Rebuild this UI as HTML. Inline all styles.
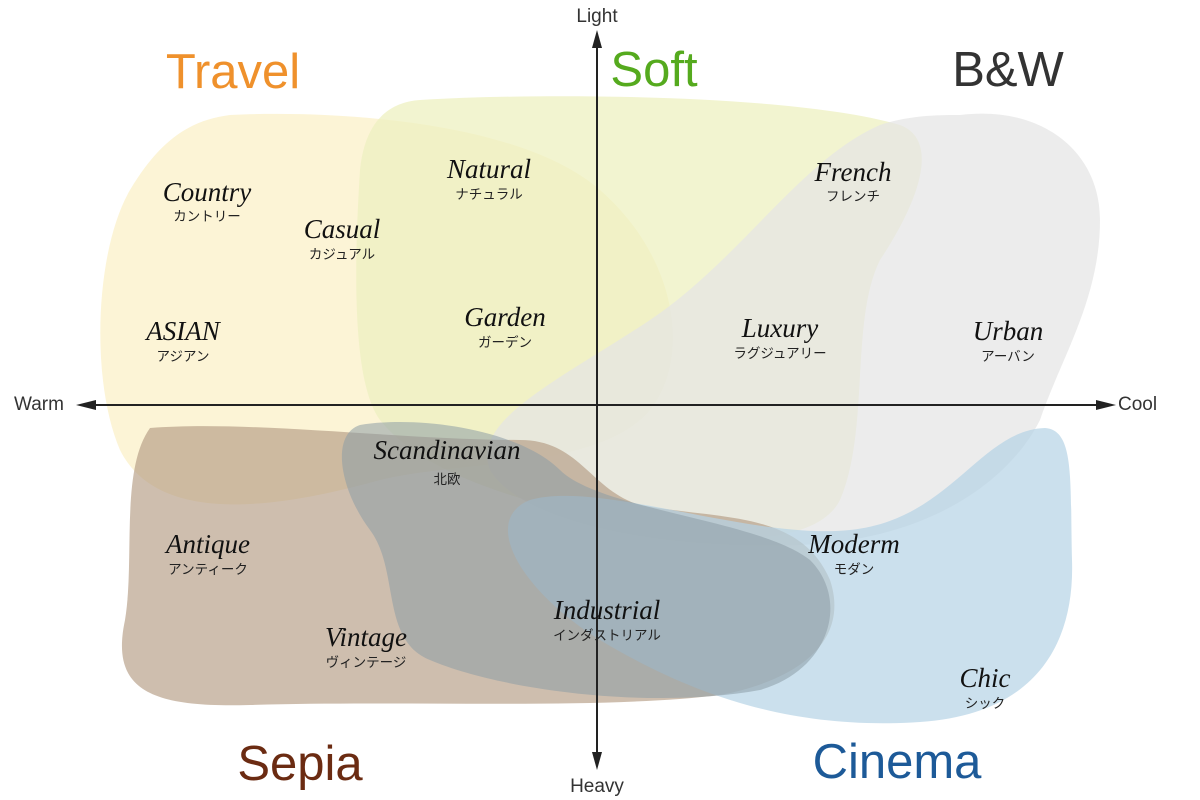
<!DOCTYPE html>
<html><head><meta charset="utf-8"><style>
html,body{margin:0;padding:0;background:#fff;}
svg{display:block;}
.l{font-family:"Liberation Serif","Noto Serif CJK SC",serif;font-style:italic;font-size:27px;fill:#111;text-anchor:middle;}
.j{font-family:"Liberation Sans","Noto Sans CJK JP",sans-serif;font-size:13.5px;fill:#222;text-anchor:middle;}
.t{font-family:"Liberation Sans",sans-serif;font-size:49px;text-anchor:middle;}
.a{font-family:"Liberation Sans",sans-serif;font-size:19px;fill:#333;}
</style></head><body>
<svg width="1200" height="800" viewBox="0 0 1200 800" xmlns="http://www.w3.org/2000/svg">
<path d="M230,115 C330,110 520,120 600,190 C680,260 690,360 650,410 C600,470 460,460 380,480 C290,505 160,530 120,450 C90,380 95,250 130,190 C160,140 190,120 230,115 Z" fill="#fbf1cc" opacity="0.8"/>
<path d="M420,100 C550,92 800,95 900,125 C940,140 920,200 880,260 C850,320 870,430 840,500 C815,550 700,545 600,520 C500,495 420,470 380,420 C350,380 355,250 360,170 C365,120 390,102 420,100 Z" fill="#eef0c0" opacity="0.75"/>
<path d="M960,115 C1040,105 1100,150 1100,220 C1100,300 1060,360 1040,420 C1010,480 930,540 800,545 C650,550 520,520 490,470 C470,420 560,380 650,320 C740,260 800,160 880,125 C910,115 940,115 960,115 Z" fill="#e4e4e4" opacity="0.72"/>
<path d="M150,428 C250,420 400,440 520,440 C580,440 590,490 640,505 C720,520 800,510 830,580 C850,640 800,680 720,695 C600,710 400,700 250,705 C150,708 110,690 125,620 C135,560 120,470 150,428 Z" fill="#b39b83" opacity="0.65"/>
<path d="M1045,428 C1075,430 1070,480 1072,560 C1075,650 1030,715 920,722 C800,730 700,700 600,640 C520,590 480,520 530,500 C600,480 750,540 850,530 C950,520 980,430 1045,428 Z" fill="#b5d3e6" opacity="0.7"/>
<path d="M360,425 C420,415 520,430 560,470 C600,510 760,520 810,560 C850,600 830,670 760,690 C650,710 500,690 430,660 C380,640 400,570 370,530 C340,490 330,435 360,425 Z" fill="#8c9ca6" opacity="0.55"/>
<line x1="597" y1="38" x2="597" y2="762" stroke="#222" stroke-width="2"/>
<polygon points="597,30 592,48 602,48" fill="#222"/>
<polygon points="597,770 592,752 602,752" fill="#222"/>
<line x1="88" y1="405" x2="1105" y2="405" stroke="#222" stroke-width="2"/>
<polygon points="76,405 96,400 96,410" fill="#222"/>
<polygon points="1116,405 1096,400 1096,410" fill="#222"/>
<text class="a" x="597" y="22" text-anchor="middle">Light</text>
<text class="a" x="597" y="792" text-anchor="middle">Heavy</text>
<text class="a" x="14" y="410">Warm</text>
<text class="a" x="1118" y="410">Cool</text>
<text class="t" x="233" y="88" fill="#ef912c">Travel</text>
<text class="t" x="654" y="86" fill="#55aa1e">Soft</text>
<text class="t" x="1008" y="86" fill="#333">B&amp;W</text>
<text class="t" x="300" y="780" fill="#6b2b12">Sepia</text>
<text class="t" x="897" y="778" fill="#1d5a98">Cinema</text>
<text class="l" x="207" y="201">Country</text><text class="j" x="207" y="221">カントリー</text>
<text class="l" x="489" y="178">Natural</text><text class="j" x="489" y="199">ナチュラル</text>
<text class="l" x="342" y="238">Casual</text><text class="j" x="342" y="259">カジュアル</text>
<text class="l" x="505" y="326">Garden</text><text class="j" x="505" y="347">ガーデン</text>
<text class="l" x="183" y="340">ASIAN</text><text class="j" x="183" y="361">アジアン</text>
<text class="l" x="853" y="181">French</text><text class="j" x="853" y="201">フレンチ</text>
<text class="l" x="780" y="337">Luxury</text><text class="j" x="780" y="358">ラグジュアリー</text>
<text class="l" x="1008" y="340">Urban</text><text class="j" x="1008" y="361">アーバン</text>
<text class="l" x="447" y="459">Scandinavian</text><text class="j" x="447" y="484">北欧</text>
<text class="l" x="208" y="553">Antique</text><text class="j" x="208" y="574">アンティーク</text>
<text class="l" x="607" y="619">Industrial</text><text class="j" x="607" y="640">インダストリアル</text>
<text class="l" x="366" y="646">Vintage</text><text class="j" x="366" y="667">ヴィンテージ</text>
<text class="l" x="854" y="553">Moderm</text><text class="j" x="854" y="574">モダン</text>
<text class="l" x="985" y="687">Chic</text><text class="j" x="985" y="708">シック</text>
</svg>
</body></html>
